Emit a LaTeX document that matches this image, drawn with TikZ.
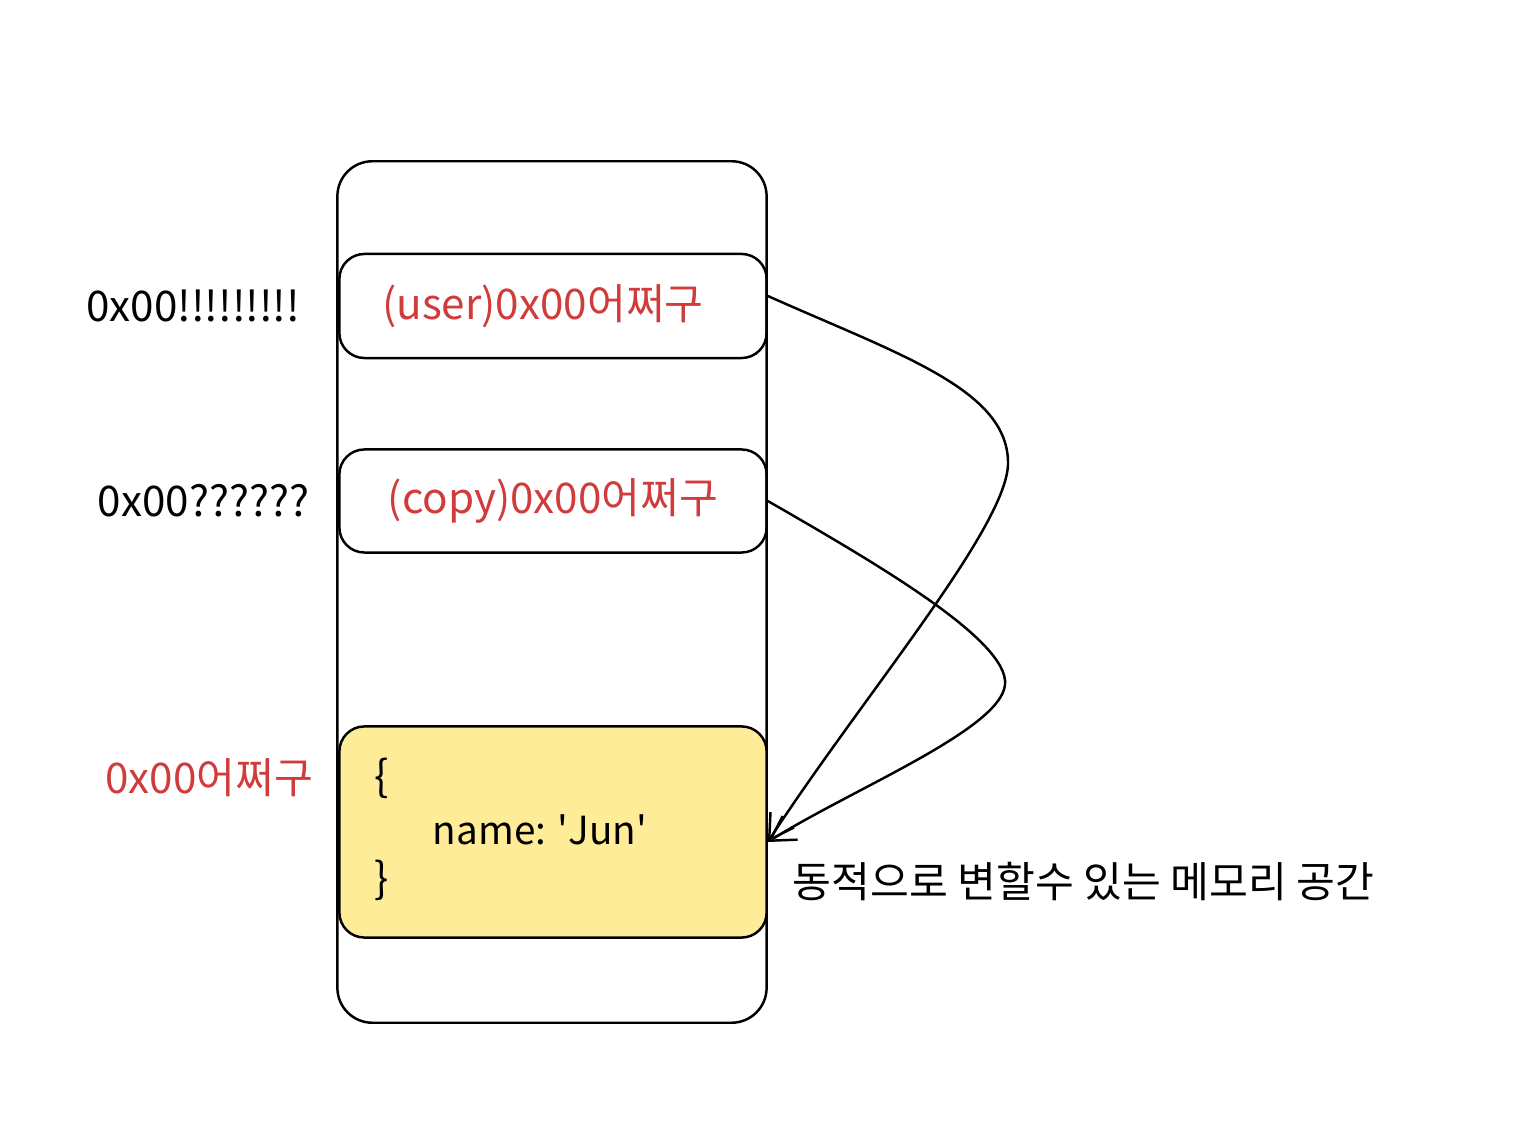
\documentclass[tikz,border=0pt]{standalone}
\usepackage{fontspec}
\setmainfont{Noto Sans CJK KR}
\usetikzlibrary{positioning}
\usetikzlibrary{arrows.meta}
\definecolor{addrred}{HTML}{D03B3B}
\definecolor{heapyellow}{HTML}{FFEC99}

\begin{document}
\begin{tikzpicture}[%
    x=0.01cm, y=-0.01cm,
    line width=0.7pt,
    >={Straight Barb[length=2.4mm, width=2.8mm]},
    font=\fontsize{12}{14}\selectfont,
membox/.style={rectangle, rounded corners=0.25cm, draw=black, minimum width=4.27cm, inner sep=0pt},
framebox/.style={rectangle, rounded corners=0.35cm, draw=black, minimum width=4.29cm, minimum height=8.61cm},
addrtext/.style={text=addrred},
plaintext/.style={text=black}
]
\useasboundingbox (0,0) rectangle (1538,1128);

% Memory frame
\node[framebox]      (frame) at (552,592) {};

% Variable Nodes
\node[membox, minimum height=1.04cm, addrtext]      (user) at (553,306) {(user)0x00어쩌구\hspace*{0.2cm}};
\node[membox, minimum height=1.03cm, addrtext]      (copy) at (553,501) {(copy)0x00어쩌구};

% Heap Node
\node[membox, minimum height=2.11cm, fill=heapyellow]      (heap) at (553,832) {};
\node[plaintext]      (openbrace) at (382,778) {\{};
\node[plaintext, font=\fontsize{11}{13}\selectfont]      (field) at (540,830) {name: \textquotesingle Jun\textquotesingle};
\node[plaintext]      (closebrace) at (382,880) {\}};

% Addresses
\node[plaintext]      (useraddr) [left=0.25cm of user] {0x00!!!!!!!!!};
\node[plaintext]      (copyaddr) [left=0.16cm of copy] {0x00??????};
\node[addrtext]       (heapaddr) [left=0.12cm of heap, yshift=0.54cm] {0x00어쩌구};

% Heap caption
\node[plaintext, anchor=west]      (caption) [right=0.12cm of heap.east, yshift=-0.5cm] {동적으로 변할수 있는 메모리 공간};

% Reference Lines
\draw[->] ([yshift=1mm]user.east) .. controls (900,355) and (1010,390) .. (1008,465) .. controls (1005,530) and (860,700) .. ([yshift=-1mm]heap.east);
\draw[->] (copy.east) .. controls (870,560) and (1010,640) .. (1005,685) .. controls (1000,730) and (850,790) .. ([yshift=-1mm]heap.east);

\end{tikzpicture}
\end{document}
